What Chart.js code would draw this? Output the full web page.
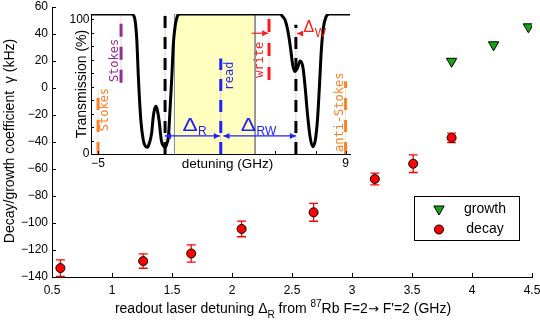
<!DOCTYPE html>
<html>
<head>
<meta charset="utf-8">
<script src="https://cdn.jsdelivr.net/npm/chart.js@4.4.0/dist/chart.umd.min.js"></script>
<style>
  html, body { margin: 0; padding: 0; background: #fff; }
  #wrap { position: relative; width: 540px; height: 321px; }
  #wrap canvas { position: absolute; left: 0; top: 0; }
</style>
</head>
<body>
<div id="wrap">
  <canvas id="main" width="540" height="321" style="width:540px;height:321px"></canvas>
  <canvas id="inset" width="540" height="321" style="width:540px;height:321px"></canvas>
</div>
<script>
// ---- main plot: decay / growth coefficient (kHz) vs readout detuning (GHz)
const decayDetuning = [0.57, 1.26, 1.66, 2.08, 2.68, 3.19, 3.51, 3.83];
const decayGamma = [-133.4, -128.2, -122.6, -104.4, -92.1, -67.4, -56.1, -36.9];
const decayError = [6.1, 5.3, 6.4, 5.8, 6.6, 4.3, 6.5, 3.5];
const growthDetuning = [3.83, 4.18, 4.47];
const growthGamma = [19.8, 32, 45.3];
const mainXTicks = [0.5, 1, 1.5, 2, 2.5, 3, 3.5, 4, 4.5];
const mainYTicks = [-140, -120, -100, -80, -60, -40, -20, 0, 20, 40, 60];

// ---- inset: transmission spectrum (%) vs detuning (GHz)
const specDetuning = [-5.4, -3.1, -3.0, -2.91, -2.81, -2.72, -2.58, -2.44, -2.33, -2.21, -2.1, -1.97, -1.88, -1.8,
  -1.72, -1.64, -1.55, -1.42, -1.3, -1.21, -1.1, -1.02, -0.93, -0.83, -0.74, -0.64, -0.55, -0.46, -0.35,
  5.3, 5.39, 5.48, 5.58, 5.76, 5.9, 6.01, 6.14, 6.27, 6.43, 6.58, 6.71, 6.84, 6.99, 7.14, 7.29, 7.41, 7.52,
  7.63, 7.74, 7.9, 8.08, 9.25];
const specTransmission = [104, 104, 103, 99.5, 85, 57, 25, 10, 6, 5, 8, 15.5, 27.5, 33.5,
  35.5, 32, 25, 10, 6, 5, 8, 13, 33, 57, 82, 95, 101, 103.5, 104,
  104, 103, 101.5, 99.5, 89.7, 77.3, 66.2, 61.2, 63.7, 69, 65, 50, 30.3, 12.9, 5.4, 10.4, 25.3, 50,
  77.3, 93.5, 102, 104, 104];
const bandDetuning = [-0.68, 3.88];
const markerText = ['Stokes', 'Stokes', 'read', 'write', 'anti-Stokes', '', ''];
const markerDetuning = [-5.0, -3.7, 1.94, 4.67, 9.0, -1.21, 6.19];
const markerLow = [0, 53, 0, 55, 0, 0, 0];
const markerHigh = [48, 103, 71, 102, 54, 104, 96];
const insetXTicks = [-5, 5, 7.3, 9];
const insetXLabels = ['\u22125', '', '', '9'];
const insetYTicks = [0, 10, 20, 30, 40, 50, 60, 70, 80, 90, 100];
const insetYLabels = ['0', '', '', '', '', '', '', '', '', '', '100'];

const SANS = '"Liberation Sans", Arial, sans-serif';
const MONO = '"DejaVu Sans Mono", monospace';

// styles for the inset marker lines (same order as markerDetuning)
const markerColor = ['#ff7f27', '#952d98', '#1f1fff', '#ff1a1a', '#ff7f27', '#000000', '#000000'];
const markerFaint = ['rgba(255,127,39,0.25)', 'rgba(149,45,152,0.2)', 'rgba(31,31,255,0.2)', 'rgba(255,26,26,0.2)',
  'rgba(255,127,39,0.25)', 'rgba(0,0,0,0.18)', 'rgba(0,0,0,0.18)'];
const markerDash = [[12, 10], [13, 10], [12, 9], [13, 11], [12, 10], [12, 9], [12, 9]];
// where the rotated labels sit, in data units of the inset
const markerTextPos = [[-4.62, 33], [-4.04, 69.5], [2.47, 58], [4.14, 70], [8.65, 31]];

function innerTicks(len) {
  return {
    id: 'innerTicks',
    afterDraw(chart) {
      const {ctx, chartArea} = chart;
      const sx = chart.scales.x, sy = chart.scales.y;
      ctx.save();
      ctx.strokeStyle = '#000';
      ctx.lineWidth = 1;
      ctx.beginPath();
      sx.ticks.forEach(t => {
        const px = Math.round(sx.getPixelForValue(t.value)) + 0.5;
        ctx.moveTo(px, chartArea.bottom);
        ctx.lineTo(px, chartArea.bottom - len);
      });
      sy.ticks.forEach(t => {
        const py = Math.round(sy.getPixelForValue(t.value)) + 0.5;
        ctx.moveTo(chartArea.left, py);
        ctx.lineTo(chartArea.left + len, py);
      });
      ctx.stroke();
      ctx.restore();
    }
  };
}

const errorBars = {
  id: 'errorBars',
  beforeDatasetsDraw(chart) {
    const {ctx} = chart;
    const sx = chart.scales.x, sy = chart.scales.y;
    ctx.save();
    ctx.strokeStyle = '#ff0000';
    ctx.lineWidth = 1.3;
    decayDetuning.forEach((d, i) => {
      const px = sx.getPixelForValue(d);
      const top = sy.getPixelForValue(decayGamma[i] + decayError[i]);
      const bot = sy.getPixelForValue(decayGamma[i] - decayError[i]);
      ctx.beginPath();
      ctx.moveTo(px, top); ctx.lineTo(px, bot);
      ctx.moveTo(px - 4.5, top); ctx.lineTo(px + 4.5, top);
      ctx.moveTo(px - 4.5, bot); ctx.lineTo(px + 4.5, bot);
      ctx.stroke();
    });
    ctx.restore();
  }
};

// axis titles (with sub/superscripts) and the legend box
const mainDecor = {
  id: 'mainDecor',
  afterDraw(chart) {
    const {ctx} = chart;
    ctx.save();
    ctx.fillStyle = '#000';

    ctx.save();
    ctx.translate(10, 141);
    ctx.rotate(-Math.PI / 2);
    ctx.font = '14px ' + SANS;
    ctx.textAlign = 'center';
    ctx.textBaseline = 'middle';
    ctx.fillText('Decay/growth coefficient  \u03b3 (kHz)', 0, 0);
    ctx.restore();

    const parts = [
      ['readout laser detuning \u0394', '14px ' + SANS, 0],
      ['R', '10px ' + SANS, 5],
      [' from ', '14px ' + SANS, 0],
      ['87', '10px ' + SANS, -6],
      ['Rb F=2', '14px ' + SANS, 0],
      ['\u2192', '13px "DejaVu Sans", sans-serif', 0],
      [' F\'=2 (GHz)', '14px ' + SANS, 0]
    ];
    let total = 0;
    parts.forEach(p => { ctx.font = p[1]; total += ctx.measureText(p[0]).width; });
    let cx = 283 - total / 2;
    ctx.textAlign = 'left';
    ctx.textBaseline = 'alphabetic';
    parts.forEach(p => {
      ctx.font = p[1];
      ctx.fillText(p[0], cx, 313 + p[2]);
      cx += ctx.measureText(p[0]).width;
    });

    // legend
    ctx.lineWidth = 1;
    ctx.strokeStyle = '#000';
    ctx.fillStyle = '#fff';
    ctx.fillRect(414.5, 196.5, 105, 44);
    ctx.strokeRect(414.5, 196.5, 105, 44);
    ctx.beginPath();
    ctx.moveTo(439, 215); ctx.lineTo(433.8, 206); ctx.lineTo(444.2, 206); ctx.closePath();
    ctx.fillStyle = '#13a813';
    ctx.fill(); ctx.stroke();
    ctx.beginPath();
    ctx.arc(439, 229.5, 4.5, 0, Math.PI * 2);
    ctx.fillStyle = '#ff0000';
    ctx.fill(); ctx.stroke();
    ctx.fillStyle = '#000';
    ctx.font = '14px ' + SANS;
    ctx.textAlign = 'center';
    ctx.textBaseline = 'middle';
    ctx.fillText('growth', 485, 209);
    ctx.fillText('decay', 485, 229.5);
    ctx.restore();
  }
};

function arrowHead(ctx, x, y, dir) {
  ctx.beginPath();
  ctx.moveTo(x, y);
  ctx.lineTo(x - dir * 6, y - 3);
  ctx.lineTo(x - dir * 6, y + 3);
  ctx.closePath();
  ctx.fill();
}

function hArrow(chart, x1, x2, yv, color, both) {
  const {ctx} = chart;
  const sx = chart.scales.x, sy = chart.scales.y;
  const p1 = sx.getPixelForValue(x1), p2 = sx.getPixelForValue(x2), py = sy.getPixelForValue(yv);
  const dir = p2 > p1 ? 1 : -1;
  ctx.strokeStyle = color;
  ctx.fillStyle = color;
  ctx.lineWidth = 1.2;
  ctx.beginPath();
  ctx.moveTo(p1, py); ctx.lineTo(p2, py);
  ctx.stroke();
  arrowHead(ctx, p2, py, dir);
  if (both) arrowHead(ctx, p1, py, -dir);
}

function deltaLabel(chart, xv, yv, sub, color, size, stretch) {
  const {ctx} = chart;
  const px = chart.scales.x.getPixelForValue(xv), py = chart.scales.y.getPixelForValue(yv);
  ctx.save();
  ctx.fillStyle = color;
  ctx.font = size + 'px ' + SANS;
  const w = ctx.measureText('\u0394').width * stretch;
  ctx.textAlign = 'center';
  ctx.textBaseline = 'middle';
  ctx.save();
  ctx.translate(px, py);
  ctx.scale(stretch, 1);
  ctx.fillText('\u0394', 0, 0);
  ctx.restore();
  ctx.font = '12px ' + SANS;
  ctx.textAlign = 'left';
  ctx.fillText(sub, px + w / 2 + 0.5, py + 6);
  ctx.restore();
}

const insetDecor = {
  id: 'insetDecor',
  afterDatasetsDraw(chart) {
    const {ctx} = chart;
    const sx = chart.scales.x, sy = chart.scales.y;
    ctx.save();
    markerTextPos.forEach((pos, i) => {
      ctx.save();
      ctx.translate(sx.getPixelForValue(pos[0]), sy.getPixelForValue(pos[1]));
      ctx.rotate(-Math.PI / 2);
      ctx.font = '12px ' + MONO;
      ctx.fillStyle = markerColor[i];
      ctx.textAlign = 'center';
      ctx.textBaseline = 'middle';
      ctx.fillText(markerText[i], 0, 0);
      ctx.restore();
    });
    // detuning arrows
    hArrow(chart, markerDetuning[5], markerDetuning[2] - 0.05, 13.4, '#1f1fff', true);
    hArrow(chart, markerDetuning[2] + 0.15, markerDetuning[6], 13.4, '#1f1fff', true);
    hArrow(chart, 3.69, 4.62, 89.7, '#ff1a1a', false);
    hArrow(chart, 6.57, 6.26, 89.5, '#ff1a1a', false);
    deltaLabel(chart, 0.2, 21.2, 'R', '#1f1fff', 19, 1.2);
    deltaLabel(chart, 3.5, 21.2, 'RW', '#1f1fff', 19, 1.2);
    deltaLabel(chart, 6.92, 94, 'W', '#ff1a1a', 16, 1);
    ctx.restore();
  },
  afterDraw(chart) {
    const {ctx} = chart;
    ctx.save();
    ctx.fillStyle = '#000';
    ctx.textAlign = 'center';
    ctx.textBaseline = 'middle';
    ctx.font = '13.5px ' + SANS;
    ctx.fillText('detuning (GHz)', 227.5, 164.5);
    ctx.translate(81.7, 84);
    ctx.rotate(-Math.PI / 2);
    ctx.font = '14px ' + SANS;
    ctx.fillText('Transmission (%)', 0, 0);
    ctx.restore();
  }
};

function axisStyle(extra) {
  return Object.assign({
    type: 'linear',
    grid: {display: false, drawTicks: false},
    border: {display: true, color: '#000', width: 1},
  }, extra);
}

new Chart(document.getElementById('main'), {
  type: 'scatter',
  data: {
    datasets: [
      {
        label: 'growth',
        data: growthDetuning.map((x, i) => ({x: x, y: growthGamma[i]})),
        pointStyle: 'triangle',
        pointRotation: 180,
        pointRadius: 6,
        pointBackgroundColor: '#13a813',
        pointBorderColor: '#000',
        pointBorderWidth: 1
      },
      {
        label: 'decay',
        data: decayDetuning.map((x, i) => ({x: x, y: decayGamma[i]})),
        pointStyle: 'circle',
        pointRadius: 4.5,
        pointBackgroundColor: '#ff0000',
        pointBorderColor: '#000',
        pointBorderWidth: 1
      }
    ]
  },
  options: {
    responsive: false,
    animation: false,
    layout: {padding: {left: 0, top: 6, right: 8, bottom: 0}},
    plugins: {legend: {display: false}, tooltip: {enabled: false}},
    scales: {
      x: axisStyle({
        min: 0.5, max: 4.5,
        afterBuildTicks: s => { s.ticks = mainXTicks.map(v => ({value: v})); },
        afterFit: s => { s.height = 44; s.paddingLeft = 0; s.paddingRight = 0; },
        ticks: {autoSkip: false, maxRotation: 0, padding: 6, color: '#000',
          font: {family: SANS, size: 12}, callback: v => String(v)}
      }),
      y: axisStyle({
        min: -140, max: 60,
        afterBuildTicks: s => { s.ticks = mainYTicks.map(v => ({value: v})); },
        afterFit: s => { s.width = 52; s.paddingTop = 0; s.paddingBottom = 0; },
        ticks: {autoSkip: false, padding: 4, color: '#000',
          font: {family: SANS, size: 12}, callback: v => v < 0 ? '\u2212' + Math.abs(v) : String(v)}
      })
    }
  },
  plugins: [innerTicks(4), errorBars, mainDecor]
});

// inset datasets: yellow band, spectrum, marker lines
const insetSets = [];
insetSets.push({
  data: [{x: bandDetuning[0], y: 0}, {x: bandDetuning[0], y: 104}, {x: bandDetuning[1], y: 104}, {x: bandDetuning[1], y: 0}],
  borderColor: '#8a8a8a', borderWidth: 1, backgroundColor: '#ffffc0', fill: 'origin', pointRadius: 0, order: 10
});
insetSets.push({
  data: specDetuning.map((x, i) => ({x: x, y: specTransmission[i]})),
  borderColor: '#000', borderWidth: 3, pointRadius: 0, fill: false,
  cubicInterpolationMode: 'monotone', order: 5
});
markerDetuning.forEach((x, i) => {
  const pts = [{x: x, y: markerLow[i]}, {x: x, y: markerHigh[i]}];
  insetSets.push({data: pts, borderColor: markerFaint[i], borderWidth: 1, pointRadius: 0, fill: false, order: 3});
  insetSets.push({data: pts, borderColor: markerColor[i], borderWidth: 3, borderDash: markerDash[i],
    borderCapStyle: 'butt', pointRadius: 0, fill: false, order: 1});
});

new Chart(document.getElementById('inset'), {
  type: 'line',
  data: {datasets: insetSets},
  options: {
    responsive: false,
    animation: false,
    layout: {padding: {left: 0, top: 14, right: 190, bottom: 147}},
    plugins: {legend: {display: false}, tooltip: {enabled: false}},
    scales: {
      x: axisStyle({
        min: -5.4, max: 9.25,
        afterBuildTicks: s => { s.ticks = insetXTicks.map(v => ({value: v})); },
        afterFit: s => { s.height = 20; s.paddingLeft = 0; s.paddingRight = 0; },
        ticks: {autoSkip: false, maxRotation: 0, padding: 2, color: '#000',
          font: {family: SANS, size: 12}, callback: (v, i) => insetXLabels[i]}
      }),
      y: axisStyle({
        min: 0, max: 104,
        afterBuildTicks: s => { s.ticks = insetYTicks.map(v => ({value: v})); },
        afterFit: s => { s.width = 91; s.paddingTop = 0; s.paddingBottom = 0; },
        ticks: {autoSkip: false, padding: 1.5, color: '#000',
          font: {family: SANS, size: 12}, callback: (v, i) => insetYLabels[i]}
      })
    }
  },
  plugins: [innerTicks(3), insetDecor]
});
</script>
</body>
</html>
